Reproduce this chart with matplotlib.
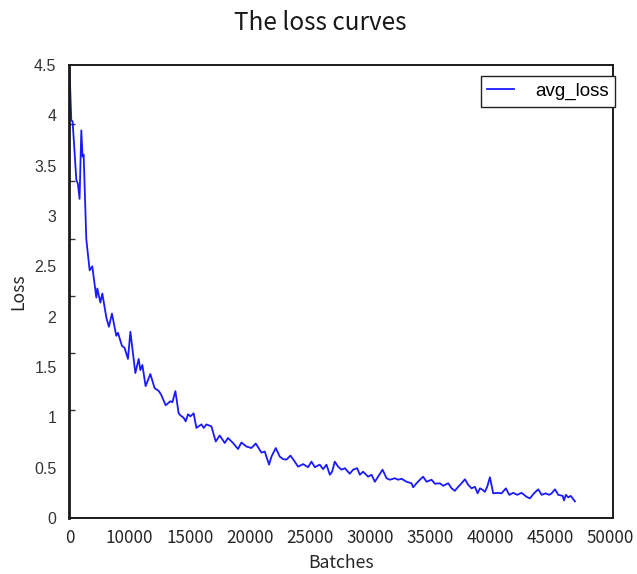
import matplotlib
matplotlib.use("Agg")
import matplotlib.pyplot as plt
import numpy as np

# ---- data ----
batches = [5000, 5140, 5250, 5560, 5690, 5830, 5975, 6080, 6170, 6390, 6670, 6890,
           7025, 7225, 7310, 7560, 7725, 8060, 8275, 8525, 8890, 9025, 9360, 9580,
           9860, 10060, 10475, 10750, 10890, 11060, 11330, 11725, 12080, 12440, 12640,
           13000, 13390, 13560, 13810, 14080, 14225, 14500, 14665, 14860, 15060, 15330,
           15560, 15975, 16170, 16390, 16810, 17170, 17500, 17920, 18190, 18610, 19025,
           19310, 19725, 20140, 20500, 20975, 21250, 21610, 21810, 22170, 22500, 22775,
           23060, 23390, 23750, 24025, 24440, 24860,
           25140, 25420, 25830, 26110, 26390, 26670, 26860, 27080, 27360, 27640, 27920,
           28330, 28610, 28940, 29170, 29440, 29860, 30140, 30420, 30690, 31060, 31390,
           31670, 32080, 32360, 32640, 33060, 33470, 33610, 33890, 34170, 34440, 34725,
           35140, 35420, 35830, 36110, 36525, 36810, 37080, 37360, 37640, 37920, 38190,
           38470, 38750, 38975, 39170, 39390, 39580, 39775, 40000, 40275, 40690, 40975,
           41330, 41610, 41940, 42275, 42640, 43055, 43330, 43670, 44025, 44310, 44640,
           44940, 45140, 45420, 45690, 46060, 46170, 46330, 46525, 46725, 47080]
avg_loss = [4.44, 3.95, 3.94, 3.36, 3.32, 3.17, 3.85, 3.59, 3.61, 2.77, 2.46, 2.50,
            2.375, 2.19, 2.28, 2.14, 2.23, 1.99, 1.90, 2.03, 1.81, 1.84, 1.71, 1.69,
            1.58, 1.85, 1.44, 1.58, 1.47, 1.52, 1.31, 1.43, 1.29, 1.26, 1.22,
            1.12, 1.16, 1.15, 1.26, 1.04, 1.02, 0.995, 0.96, 1.03, 1.01, 1.04,
            0.895, 0.93, 0.895, 0.93, 0.91, 0.76, 0.82, 0.745, 0.795, 0.745, 0.685,
            0.75, 0.71, 0.695, 0.74, 0.65, 0.66, 0.53, 0.61, 0.695, 0.61, 0.585,
            0.58, 0.62, 0.56, 0.51, 0.535, 0.505,
            0.56, 0.505, 0.53, 0.485, 0.53, 0.43, 0.46, 0.56, 0.51, 0.48, 0.495,
            0.44, 0.48, 0.495, 0.43, 0.46, 0.41, 0.43, 0.36, 0.41, 0.48, 0.395,
            0.38, 0.395, 0.38, 0.39, 0.36, 0.345, 0.305, 0.345, 0.38, 0.41, 0.36,
            0.38, 0.34, 0.345, 0.32, 0.345, 0.295, 0.27, 0.31, 0.345, 0.385, 0.33,
            0.295, 0.31, 0.245, 0.295, 0.28, 0.26, 0.31, 0.405, 0.245, 0.25, 0.245,
            0.295, 0.23, 0.25, 0.23, 0.25, 0.21, 0.195, 0.245, 0.285, 0.23, 0.245,
            0.23, 0.245, 0.285, 0.23, 0.22, 0.175, 0.23, 0.205, 0.22, 0.165]

x_tick_values = [5000, 10000, 15000, 20000, 25000, 30000, 35000, 40000, 45000, 50000]
x_tick_labels = ["0", "10000", "15000", "20000", "25000", "30000", "35000", "40000", "45000", "50000"]
y_tick_values = [0, 0.5, 1, 1.5, 2, 2.5, 3, 3.5, 4, 4.5]
y_tick_labels = ["0", "0.5", "1", "1.5", "2", "2.5", "3", "3.5", "4", "4.5"]

# ---- figure ----
W, H = 637, 574
fig = plt.figure(figsize=(W / 100, H / 100), dpi=100)
ax = fig.add_axes([69 / W, 1 - 518 / H, (613 - 69) / W, (518 - 65) / H])

cjk = ["Noto Sans CJK SC", "DejaVu Sans"]
txt_color = "#262626"

ax.plot(batches, avg_loss, color="#1a1aff", linewidth=1.3, label="avg_loss")

ax.set_xlim(4950, 50250)
ax.set_ylim(0, 4.5)

ax.set_xticks(x_tick_values)
ax.set_xticklabels(x_tick_labels, fontfamily=cjk, fontsize=12.3, color=txt_color)
ax.set_yticks(y_tick_values)
ax.set_yticklabels(y_tick_labels, fontfamily=["Liberation Sans", "DejaVu Sans"],
                   fontsize=11.5, color="#333333")
ax.tick_params(axis="x", which="major", length=0, pad=8)
ax.tick_params(axis="y", which="major", length=0, pad=9)
ax.set_yticks(np.arange(0.5, 4.0, 0.569), minor=True)
ax.tick_params(axis="y", which="minor", direction="in", length=4, width=1, color="#333333")

for s in ax.spines.values():
    s.set_linewidth(1.4)
    s.set_color("#1a1a1a")
ax.spines["left"].set_linewidth(2.0)

ax.set_xlabel("Batches", fontfamily=cjk, fontsize=12.7, color=txt_color, labelpad=5)
ax.set_ylabel("Loss", fontfamily=cjk, fontsize=12.7, color=txt_color, labelpad=5)
fig.text(320 / W, 1 - 23 / H, "The loss curves", fontfamily=cjk, fontsize=17.5,
         color="#1a1a1a", ha="center", va="center")

leg = ax.legend(loc="upper right", bbox_to_anchor=(1.004, 0.975),
                prop={"family": ["Liberation Sans", "DejaVu Sans"], "size": 13.5},
                fancybox=False, framealpha=1, edgecolor="#222222",
                handlelength=1.45, handletextpad=1.1, borderpad=0.35, borderaxespad=0)
leg.get_frame().set_linewidth(1.0)

fig.savefig("out.png", dpi=100)
